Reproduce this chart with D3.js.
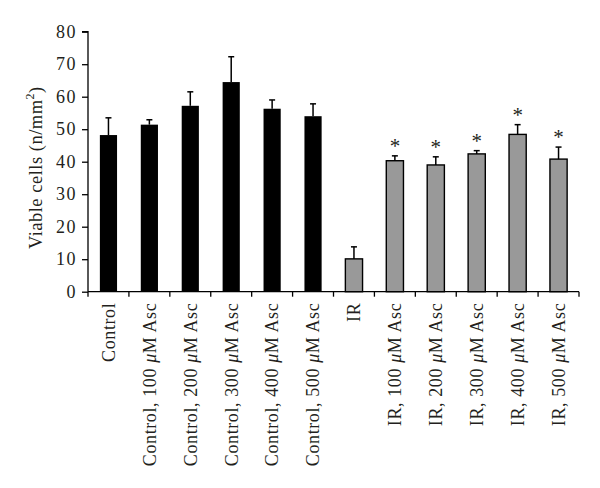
<!DOCTYPE html>
<html><head><meta charset="utf-8">
<script src="https://cdn.jsdelivr.net/npm/d3@7"></script>
<style>body{margin:0;background:#fff}svg{display:block}text{font-family:"Liberation Serif","Times New Roman",serif;fill:#231f20}</style>
</head><body><svg id="c" width="600" height="488"></svg>
<script>
const categories = ["Control","Control, 100 μM Asc","Control, 200 μM Asc","Control, 300 μM Asc","Control, 400 μM Asc","Control, 500 μM Asc","IR","IR, 100 μM Asc","IR, 200 μM Asc","IR, 300 μM Asc","IR, 400 μM Asc","IR, 500 μM Asc"];
const means = [48.2, 51.4, 57.2, 64.5, 56.3, 54.0, 10.1, 40.3, 39.0, 42.4, 48.4, 40.8];
const errors = [5.3, 1.5, 4.3, 7.8, 2.7, 3.8, 3.7, 1.5, 2.5, 1.0, 3.0, 3.7];
const groups = ["control","control","control","control","control","control","ir","ir","ir","ir","ir","ir"];
const significant = [false,false,false,false,false,false,false,true,true,true,true,true];
const yTicks = [0,10,20,30,40,50,60,70,80];

const svg = d3.select("#c");
const L = 88, R = 579, T = 31.7, B = 291.7;
const x = d3.scaleBand().domain(categories).range([L, R]).paddingInner(0.58).paddingOuter(0.29);
const y = d3.scaleLinear().domain([0, 80]).range([B, T]);
const color = d3.scaleOrdinal().domain(["control","ir"]).range(["#000000","#999999"]);

const data = categories.map((c,i)=>({c, m:means[i], e:errors[i], g:groups[i], s:significant[i]}));
svg.append("g").selectAll("rect").data(data).join("rect")
  .attr("x", d=>x(d.c)).attr("width", x.bandwidth())
  .attr("y", d=>y(d.m)).attr("height", d=>B - y(d.m))
  .attr("fill", d=>color(d.g))
  .attr("stroke", "#000").attr("stroke-width", d=>d.g==="ir"?1.4:0);

const eg = svg.append("g").attr("stroke","#000").attr("stroke-width",1.5);
data.forEach(d=>{
  const cx = x(d.c) + x.bandwidth()/2;
  eg.append("line").attr("x1",cx).attr("x2",cx).attr("y1",y(d.m)).attr("y2",y(d.m+d.e));
  eg.append("line").attr("x1",cx-3).attr("x2",cx+3).attr("y1",y(d.m+d.e)).attr("y2",y(d.m+d.e));
});

svg.append("g").selectAll("text").data(data.filter(d=>d.s)).join("text")
  .attr("x", d=>x(d.c)+x.bandwidth()/2).attr("y", d=>y(d.m+d.e)-3)
  .attr("text-anchor","middle").attr("font-size",21).text("*");

const yAxis = d3.axisLeft(y).tickValues(yTicks).tickSize(6).tickPadding(5);
const ya = svg.append("g").attr("transform",`translate(${L},0)`).call(yAxis);
ya.select(".domain").attr("stroke","#000").attr("stroke-width",1.3).attr("d",`M-6,${T}H0V${B}`);
ya.selectAll(".tick line").attr("stroke","#000").attr("stroke-width",1.3);
ya.selectAll(".tick text").attr("font-size",18).attr("letter-spacing",1.5).attr("font-family","Liberation Serif").attr("fill","#231f20");

svg.append("line").attr("x1",L).attr("x2",R).attr("y1",B).attr("y2",B).attr("stroke","#000").attr("stroke-width",1.3);
const step = x.step();
const bounds = d3.range(categories.length+1).map(i=>L + i*step);
svg.append("g").selectAll("line").data(bounds).join("line")
  .attr("x1",d=>d).attr("x2",d=>d).attr("y1",B).attr("y2",B+5)
  .attr("stroke","#000").attr("stroke-width",1.3);

const xl = svg.append("g");
categories.forEach(c=>{
  const cx = x(c)+x.bandwidth()/2;
  const t = xl.append("text").attr("transform",`translate(${cx},${B+11}) rotate(-90)`)
    .attr("text-anchor","end").attr("dy","0.35em").attr("font-size",18).attr("letter-spacing",0.6);
  const parts = c.split("μ");
  if (parts.length>1){
    t.append("tspan").text(parts[0]);
    t.append("tspan").attr("font-style","italic").text("μ");
    t.append("tspan").text(parts[1]);
  } else t.text(c);
});

const yl = svg.append("text").attr("transform",`translate(42,${(T+B)/2+6}) rotate(-90)`)
  .attr("text-anchor","middle").attr("font-size",18.5).attr("letter-spacing",0.5);
yl.append("tspan").text("Viable cells (n/mm");
yl.append("tspan").attr("font-size",12).attr("dy",-8).text("2");
yl.append("tspan").attr("dy",8).text(")");
</script></body></html>
